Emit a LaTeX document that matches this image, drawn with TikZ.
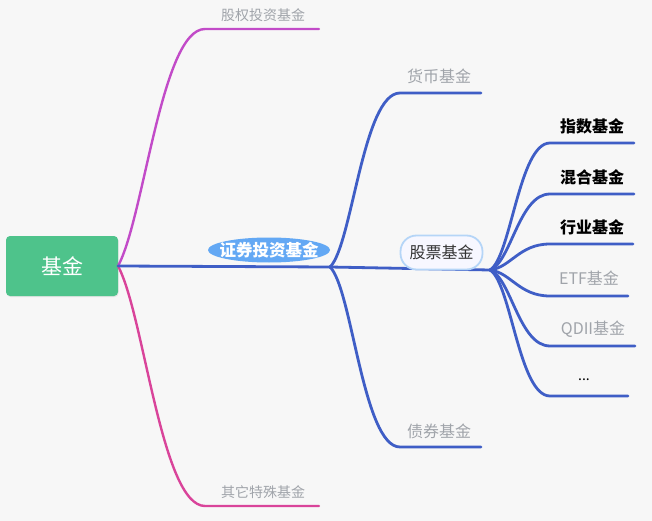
\documentclass[tikz,border=0pt]{standalone}
\usepackage{fontspec}
\setmainfont{Noto Sans CJK SC}
\usetikzlibrary{shapes.geometric}
\definecolor{bgc}{HTML}{F7F7F7}
\definecolor{rootc}{HTML}{4EC38B}
\definecolor{magc}{HTML}{C24BC8}
\definecolor{pinkc}{HTML}{D9449A}
\definecolor{bluec}{HTML}{3F5EC6}
\definecolor{ellc}{HTML}{63A8F4}
\definecolor{pillc}{HTML}{B5D5F7}
\definecolor{greyc}{HTML}{A0A4AA}
\definecolor{darkc}{HTML}{333333}
\tikzset{
  lbl/.style={inner sep=0pt, text=greyc, font=\fontsize{16}{18}\selectfont},
  lblsmall/.style={inner sep=0pt, text=greyc, font=\fontsize{14}{16}\selectfont},
  lblbold/.style={inner sep=0pt, text=black, font=\bfseries\fontsize{16}{18}\selectfont},
  blueline/.style={draw=bluec, line width=2.8pt, line cap=round},
  magline/.style={draw=magc, line width=2.4pt, line cap=round},
  pinkline/.style={draw=pinkc, line width=2.4pt, line cap=round},
}
\begin{document}
\begin{tikzpicture}[x=1pt,y=-1pt]
\fill[bgc] (0,0) rectangle (652,521);
\useasboundingbox (0,0) rectangle (652,521);

% root
\node[fill=black!10, rounded corners=4pt, minimum width=112pt, minimum height=60pt, inner sep=0pt] at (62.6,267) {};
\node (root) [fill=rootc, rounded corners=4pt, minimum width=112pt, minimum height=60pt, inner sep=0pt, text=white, font=\fontsize{21}{23}\selectfont] at (62,266) {基金};

% coordinates
\coordinate (r) at (118,266);
\coordinate (hub) at (330,267);
\coordinate (s) at (490,270);

\coordinate (eqS) at (205,29);  \coordinate (eqE) at (319,29);
\coordinate (otS) at (205,506); \coordinate (otE) at (319,506);
\coordinate (mmS) at (400,93);  \coordinate (mmE) at (481,93);
\coordinate (bdS) at (400,447); \coordinate (bdE) at (481,447);
\coordinate (c1S) at (550,143); \coordinate (c1E) at (634,143);
\coordinate (c2S) at (550,194); \coordinate (c2E) at (634,194);
\coordinate (c3S) at (550,244); \coordinate (c3E) at (633,244);
\coordinate (c4S) at (550,296); \coordinate (c4E) at (628,296);
\coordinate (c5S) at (550,346); \coordinate (c5E) at (635,346);
\coordinate (c6S) at (550,396); \coordinate (c6E) at (628,396);

% root branches
\draw[magline] (r) .. controls (144,218.6) and (161.5,29) .. (eqS) -- (eqE);
\draw[pinkline] (r) .. controls (144,314) and (161.5,506) .. (otS) -- (otE);
\draw[blueline] (r) -- (hub);

% second level
\draw[blueline] (hub) .. controls (352,246) and (363,93) .. (mmS) -- (mmE);
\draw[blueline] (hub) .. controls (352,288) and (363,447) .. (bdS) -- (bdE);
\draw[blueline] (hub) -- (s);

% stock children
\draw[blueline] (s) .. controls (511,257.3) and (519,143) .. (c1S) -- (c1E);
\draw[blueline] (s) .. controls (511,262.4) and (519,194) .. (c2S) -- (c2E);
\draw[blueline] (s) .. controls (511,267.4) and (519,244) .. (c3S) -- (c3E);
\draw[blueline] (s) .. controls (511,272.6) and (519,296) .. (c4S) -- (c4E);
\draw[blueline] (s) .. controls (511,277.6) and (519,346) .. (c5S) -- (c5E);
\draw[blueline] (s) .. controls (511,282.6) and (519,396) .. (c6S) -- (c6E);

% labelled nodes
\fill[ellc] (269,250) ellipse [x radius=61pt, y radius=12.5pt];
\node (sec) [inner sep=0pt, text=white, font=\bfseries\fontsize{16.5}{18}\selectfont] at (269,250) {证券投资基金};
\node (stk) [draw=pillc, line width=1.8pt, fill=white!97!blue, rounded corners=16pt, minimum width=82pt, minimum height=34pt, inner sep=0pt, text=darkc, font=\fontsize{16}{18}\selectfont] at (441.5,252.5) {股票基金};

\node (eq) [lblsmall] at (263,15) {股权投资基金};
\node (ot) [lblsmall] at (263,492) {其它特殊基金};
\node (mm) [lbl] at (439,76) {货币基金};
\node (bd) [lbl] at (439,431) {债券基金};
\node (c1) [lblbold] at (592,126) {指数基金};
\node (c2) [lblbold] at (592,177) {混合基金};
\node (c3) [lblbold] at (592,227) {行业基金};
\node (c4) [lbl] at (589,278) {ETF基金};
\node (c5) [lbl] at (593,329) {QDII基金};
\node (c6) [lblbold, font=\fontsize{14}{16}\selectfont] at (584,380) {...};
\end{tikzpicture}
\end{document}
